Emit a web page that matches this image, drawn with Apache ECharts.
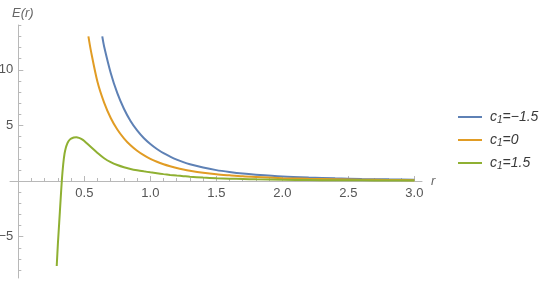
<!DOCTYPE html>
<html><head><meta charset="utf-8">
<script src="https://cdn.jsdelivr.net/npm/echarts@6/dist/echarts.min.js"></script>
<style>html,body{margin:0;padding:0;background:#fff}#c{width:545px;height:282px}</style>
</head><body><div id="c"></div>
<script>
// ---- data ----
const seriesNames = ['c1=-1.5', 'c1=0', 'c1=1.5'];
const legendValues = ['\u22121.5', '0', '1.5'];

const rBlue = [0.636,0.65,0.70,0.75,0.80,0.85,0.90,0.95,1.00,1.05,1.10,1.15,1.20,1.25,1.30,1.40,1.50,1.60,1.70,1.80,2.00,2.20,2.40,2.60,2.80,3.00];
const eBlue = [13.0,12.1,9.72,7.9,6.5,5.4,4.55,3.87,3.33,2.88,2.5,2.2,1.93,1.7,1.51,1.21,0.98,0.81,0.67,0.57,0.41,0.31,0.24,0.19,0.15,0.12];

const rOrange = [0.531,0.55,0.60,0.65,0.70,0.75,0.80,0.85,0.90,0.95,1.00,1.05,1.10,1.15,1.20,1.25,1.30,1.40,1.50,1.60,1.70,1.80,2.00,2.20,2.40,2.60,2.80,3.00];
const eOrange = [13.0,11.7,8.9,7.05,5.67,4.63,3.84,3.21,2.72,2.32,2.0,1.73,1.51,1.33,1.17,1.04,0.93,0.75,0.61,0.51,0.42,0.36,0.26,0.2,0.155,0.123,0.099,0.081];

const rGreen = [0.291,0.30,0.31,0.32,0.33,0.34,0.35,0.36,0.37,0.38,0.39,0.40,0.42,0.44,0.46,0.48,0.50,0.55,0.60,0.65,0.70,0.75,0.80,0.85,0.90,0.95,1.00,1.05,1.10,1.15,1.20,1.25,1.30,1.40,1.50,1.60,1.70,1.80,2.00,2.20,2.40,2.60,2.80,3.00];
const eGreen = [-7.64,-5.6,-3.7,-1.75,0.1,1.5,2.45,3.0,3.35,3.58,3.72,3.82,3.92,3.94,3.88,3.76,3.6,3.05,2.53,2.05,1.70,1.44,1.24,1.09,0.97,0.87,0.78,0.70,0.62,0.55,0.49,0.44,0.39,0.31,0.25,0.21,0.18,0.15,0.11,0.09,0.07,0.06,0.05,0.045];

const xMajorTicks = [0.5,1.0,1.5,2.0,2.5,3.0];
const xMinorTicks = [0.1,0.2,0.3,0.4,0.6,0.7,0.8,0.9,1.1,1.2,1.3,1.4,1.6,1.7,1.8,1.9,2.1,2.2,2.3,2.4,2.6,2.7,2.8,2.9];
const yMajorTicks = [-5,5,10];
const yMinorTicks = [-8,-7,-6,-4,-3,-2,-1,1,2,3,4,6,7,8,9,11,12,13,14];

// ---- styling ----
const FONT = '"Liberation Sans", Arial, sans-serif';
const colors = ['#5E81B5', '#E19C24', '#8FB032'];
const axisColor = '#b8b8b8';
const labelColor = '#555555';
const X_MIN = -0.063, X_MAX = 3.058, Y_MIN = -8.72, Y_MAX = 14.03;
const G_LEFT = 10, G_RIGHT = 123, G_TOP = 25, G_BOTTOM = 4, W = 545, H = 282;
const gw = W - G_LEFT - G_RIGHT, gh = H - G_TOP - G_BOTTOM;
// pixel distance of the zero lines from the grid's left / bottom edges (axes are moved there)
const zeroFromLeft = (0 - X_MIN) / (X_MAX - X_MIN) * gw;
const zeroFromBottom = (0 - Y_MIN) / (Y_MAX - Y_MIN) * gh;

function zip(a, b) { return a.map((v, i) => [v, b[i]]); }
const seriesData = [zip(rBlue, eBlue), zip(rOrange, eOrange), zip(rGreen, eGreen)];

const xAxes = [
  {
    type: 'value', min: X_MIN, max: X_MAX, position: 'bottom', offset: -zeroFromBottom,
    axisLine: { show: true, onZero: false, lineStyle: { color: axisColor, width: 1 } },
    axisTick: { show: true, inside: true, length: 5, customValues: xMajorTicks, lineStyle: { color: axisColor } },
    axisLabel: { show: true, customValues: xMajorTicks, margin: 6, color: labelColor, fontFamily: FONT, fontSize: 13, formatter: v => v.toFixed(1) },
    splitLine: { show: false },
    name: 'r', nameLocation: 'end', nameGap: 9,
    nameTextStyle: { fontFamily: FONT, fontStyle: 'italic', fontSize: 13, color: '#666' }
  },
  {
    type: 'value', min: X_MIN, max: X_MAX, position: 'bottom', offset: -zeroFromBottom,
    axisLine: { show: false, onZero: false },
    axisTick: { show: true, inside: true, length: 3, customValues: xMinorTicks, lineStyle: { color: axisColor } },
    axisLabel: { show: false }, splitLine: { show: false }
  }
];
const yAxes = [
  {
    type: 'value', min: Y_MIN, max: Y_MAX, position: 'left', offset: -zeroFromLeft,
    axisLine: { show: true, onZero: false, lineStyle: { color: axisColor, width: 1 } },
    axisTick: { show: true, inside: true, length: 5, customValues: yMajorTicks, lineStyle: { color: axisColor } },
    axisLabel: { show: true, customValues: yMajorTicks, margin: 5, color: labelColor, fontFamily: FONT, fontSize: 13, formatter: v => (v < 0 ? '\u2212' + Math.abs(v) : String(v)) },
    splitLine: { show: false }
  },
  {
    type: 'value', min: Y_MIN, max: Y_MAX, position: 'left', offset: -zeroFromLeft,
    axisLine: { show: false, onZero: false },
    axisTick: { show: true, inside: true, length: 3, customValues: yMinorTicks, lineStyle: { color: axisColor } },
    axisLabel: { show: false }, splitLine: { show: false }
  }
];

const chart = echarts.init(document.getElementById('c'));
chart.setOption({
  animation: false,
  backgroundColor: '#fff',
  grid: { left: G_LEFT, right: G_RIGHT, top: G_TOP, bottom: G_BOTTOM, containLabel: false, outerBoundsMode: 'none' },
  title: { text: 'E(r)', left: 7, top: 2, textStyle: { fontFamily: FONT, fontStyle: 'italic', fontWeight: 'normal', fontSize: 13, color: '#666' } },
  legend: {
    orient: 'vertical', left: 453, top: 105, itemWidth: 24, itemHeight: 2, itemGap: 8, icon: 'rect',
    data: seriesNames,
    formatter: name => '{i|c}{s|1}{i|=' + legendValues[seriesNames.indexOf(name)] + '}',
    textStyle: {
      padding: [0, 0, 0, 3],
      rich: {
        i: { fontFamily: FONT, fontStyle: 'italic', fontSize: 14, color: '#3a3a3a' },
        s: { fontFamily: FONT, fontStyle: 'italic', fontSize: 10, color: '#3a3a3a', padding: [6, 0, 0, 0] }
      }
    }
  },
  xAxis: xAxes,
  yAxis: yAxes,
  series: seriesNames.map((n, i) => ({
    name: n, type: 'line', xAxisIndex: 0, yAxisIndex: 0,
    data: seriesData[i], smooth: 0.3, showSymbol: false, symbol: 'none',
    color: colors[i], lineStyle: { width: 2, color: colors[i] }, clip: true
  }))
});
</script>
</body></html>
